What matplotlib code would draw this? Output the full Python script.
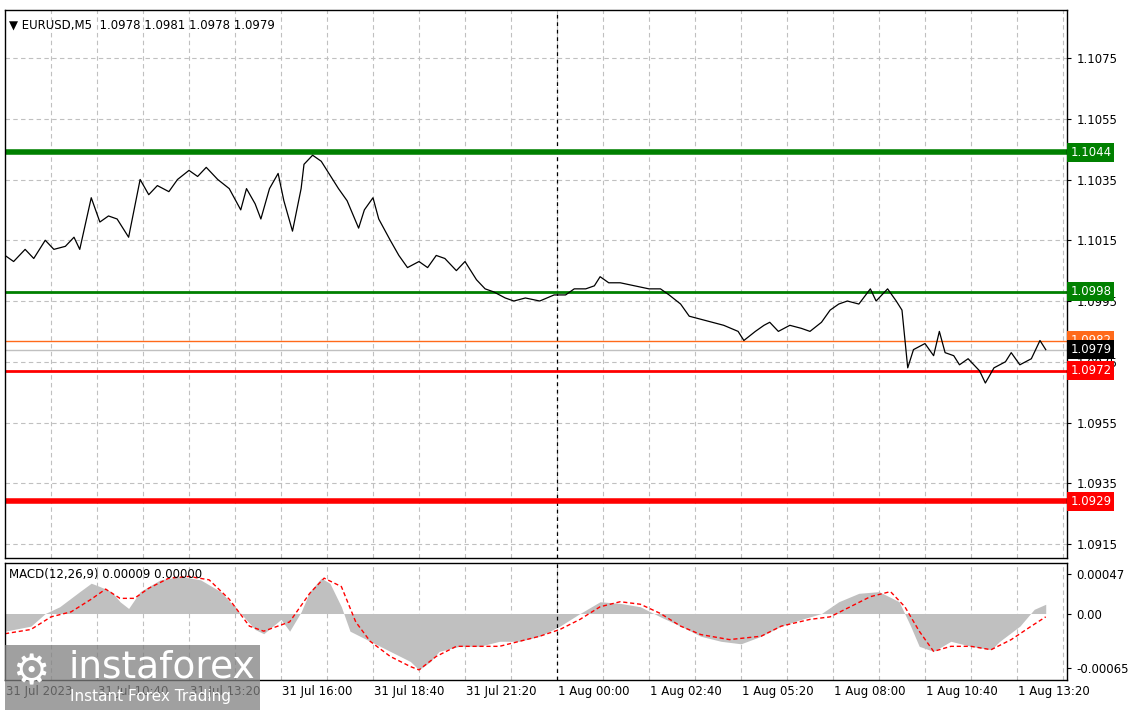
import numpy as np
import matplotlib
matplotlib.use("Agg")
import matplotlib.pyplot as plt
from matplotlib.patches import Rectangle

# price path (bar index of 5-minute bars from 31 Jul 08:00, close price)
price_bars = [0, 3, 7, 10, 14, 17, 21, 24, 26, 30, 33, 36, 39, 43, 47, 50, 53, 57, 60, 64,
              67, 70, 74, 78, 82, 84, 87, 89, 92, 95, 97, 100, 103, 104, 107, 110, 112, 116, 119, 123,
              125, 128, 130, 134, 137, 140, 144, 147, 150, 153, 157, 160, 164, 167, 170, 174, 177, 181, 186, 191,
              195, 198, 202, 205, 207, 210, 214, 219, 224, 228, 231, 235, 238, 242, 246, 250, 255, 257, 261, 264,
              266, 269, 273, 277, 280, 284, 287, 290, 293, 297, 301, 303, 307, 310, 312, 314, 316, 320, 323, 325,
              327, 330, 332, 335, 339, 341, 344, 348, 350, 353, 357, 360, 362]
prices = [1.1010, 1.1008, 1.1012, 1.1009, 1.1015, 1.1012, 1.1013, 1.1016, 1.1012, 1.1029,
          1.1021, 1.1023, 1.1022, 1.1016, 1.1035, 1.1030, 1.1033, 1.1031, 1.1035, 1.1038,
          1.1036, 1.1039, 1.1035, 1.1032, 1.1025, 1.1032, 1.1027, 1.1022, 1.1032, 1.1037,
          1.1028, 1.1018, 1.1032, 1.1040, 1.1043, 1.1041, 1.1038, 1.1032, 1.1028, 1.1019,
          1.1025, 1.1029, 1.1022, 1.1015, 1.1010, 1.1006, 1.1008, 1.1006, 1.1010, 1.1009,
          1.1005, 1.1008, 1.1002, 1.0999, 1.0998, 1.0996, 1.0995, 1.0996, 1.0995, 1.0997,
          1.0997, 1.0999, 1.0999, 1.1000, 1.1003, 1.1001, 1.1001, 1.1000, 1.0999, 1.0999,
          1.0997, 1.0994, 1.0990, 1.0989, 1.0988, 1.0987, 1.0985, 1.0982, 1.0985, 1.0987,
          1.0988, 1.0985, 1.0987, 1.0986, 1.0985, 1.0988, 1.0992, 1.0994, 1.0995, 1.0994,
          1.0999, 1.0995, 1.0999, 1.0995, 1.0992, 1.0973, 1.0979, 1.0981, 1.0977, 1.0985,
          1.0978, 1.0977, 1.0974, 1.0976, 1.0972, 1.0968, 1.0973, 1.0975, 1.0978, 1.0974,
          1.0976, 1.0982, 1.0979]

# MACD histogram and signal (units of 1e-5)
hist_bars = [0, 9, 14, 19, 26, 30, 33, 37, 40, 43, 47, 54, 61, 68, 75, 82, 87, 90, 96, 99,
             103, 106, 110, 113, 117, 120, 127, 134, 141, 144, 148, 151, 158, 165, 172, 179, 186, 193, 200, 207,
             214, 221, 228, 235, 242, 249, 256, 263, 270, 277, 284, 290, 297, 304, 311, 315, 318, 323, 329, 336,
             343, 346, 353, 358, 362]
hist_vals = [-21, -15, 0, 8, 26, 36, 32, 26, 14, 6, 26, 40, 44, 40, 26, 0, -19, -24, -7, -21,
             2, 26, 42, 36, 8, -21, -33, -45, -57, -67, -57, -45, -39, -39, -33, -33, -27, -15, 0, 14,
             12, 8, -4, -15, -27, -33, -36, -27, -15, -7, 0, 14, 24, 26, 14, -15, -39, -45, -33, -39,
             -43, -33, -15, 5, 11]
sig_bars = [0, 9, 16, 23, 30, 35, 40, 45, 50, 57, 64, 71, 78, 85, 90, 99, 106, 111, 117, 122,
            127, 134, 141, 144, 150, 157, 165, 172, 179, 186, 193, 200, 207, 214, 221, 228, 235, 242, 252, 263,
            270, 280, 287, 294, 301, 308, 313, 318, 323, 329, 336, 343, 350, 357, 362]
sig_vals = [-24, -19, -4, 2, 17, 29, 18, 18, 30, 42, 44, 40, 17, -15, -21, -10, 24, 42, 32, -10,
            -33, -51, -63, -67, -51, -39, -39, -39, -33, -27, -19, -7, 8, 14, 11, 0, -15, -25, -31, -27,
            -15, -7, -4, 8, 20, 26, 8, -21, -45, -39, -39, -43, -31, -15, -4]

time_ticks = [0, 32, 64, 96, 128, 160, 192, 224, 256, 288, 320, 352]
time_labels = ["31 Jul 2023", "31 Jul 10:40", "31 Jul 13:20", "31 Jul 16:00", "31 Jul 18:40",
               "31 Jul 21:20", "1 Aug 00:00", "1 Aug 02:40", "1 Aug 05:20", "1 Aug 08:00",
               "1 Aug 10:40", "1 Aug 13:20"]
price_ticks = [1.0915, 1.0935, 1.0955, 1.0975, 1.0995, 1.1015, 1.1035, 1.1055, 1.1075]
levels = [(1.1044, "#008000", 4), (1.0998, "#008000", 2), (1.0972, "#ff0000", 2), (1.0929, "#ff0000", 4)]
ask_level = 1.0982
last_price = 1.0979

W, H = 1137, 717
fig = plt.figure(figsize=(W / 100, H / 100), dpi=100)
fig.patch.set_facecolor("white")


def box(x0, y0, x1, y1):
    return [x0 / W, 1 - y1 / H, (x1 - x0) / W, (y1 - y0) / H]


ax = fig.add_axes(box(5, 10, 1067, 558))
ax2 = fig.add_axes(box(5, 563, 1067, 680))
xmax = 369.4
for a in (ax, ax2):
    a.set_xlim(0, xmax)
    for s in a.spines.values():
        s.set_linewidth(1)
        s.set_color("black")
    a.set_xticks(np.arange(16, xmax, 16))
    a.grid(axis="x", color="#c0c0c0", linestyle=(0, (4, 3)), linewidth=0.8)
    a.tick_params(axis="x", length=0, labelbottom=False)
    a.axvline(192, color="black", linestyle=(0, (3, 3)), linewidth=0.9)

ax.set_ylim(1.09104, 1.10908)
ax.yaxis.tick_right()
ax.set_yticks(price_ticks)
ax.set_yticklabels([f"{p:.4f}" for p in price_ticks], fontsize=8.5)
ax.tick_params(axis="y", length=3, pad=4)
ax.grid(axis="y", color="#c0c0c0", linestyle=(0, (4, 3)), linewidth=0.8)

ax.axhline(last_price, color="#c0c0c0", linewidth=1)
ax.axhline(ask_level, color="#ff6a1a", linewidth=1)
for lv, col, lw in levels:
    ax.axhline(lv, color=col, linewidth=lw)
ax.plot(price_bars, prices, color="black", linewidth=0.9)

tr = ax.get_yaxis_transform()
tags = [(1.1044, "#008000"), (1.0998, "#008000"), (ask_level, "#ff6a1a"),
        (last_price, "black"), (1.0972, "#ff0000"), (1.0929, "#ff0000")]
for lv, col in tags:
    ax.text(1.003, lv, f"{lv:.4f}", transform=tr, fontsize=8.5, color="white", va="center", ha="left",
            bbox=dict(boxstyle="square,pad=0.25", facecolor=col, edgecolor="none"))

ax.text(0.004, 0.985, "\u25bc EURUSD,M5  1.0978 1.0981 1.0978 1.0979", transform=ax.transAxes,
        fontsize=8.5, va="top", ha="left")

# MACD panel
hb = np.array(hist_bars)
hv = np.array(hist_vals) * 1e-5
ax2.fill_between(hb, 0, hv, color="#c0c0c0", linewidth=0)
ax2.plot(sig_bars, np.array(sig_vals) * 1e-5, color="#ff0000", linestyle=(0, (3, 2)), linewidth=1)
ax2.set_ylim(-0.00079, 0.00060)
ax2.yaxis.tick_right()
ax2.set_yticks([0.00047, 0.0, -0.00065])
ax2.set_yticklabels(["0.00047", "0.00", "-0.00065"], fontsize=8.5)
ax2.tick_params(axis="y", length=3, pad=4)
ax2.text(0.004, 0.96, "MACD(12,26,9) 0.00009 0.00000", transform=ax2.transAxes,
         fontsize=8.5, va="top", ha="left")

for t, lab in zip(time_ticks, time_labels):
    ax2.text(t + 0.5, -0.1, lab, transform=ax2.get_xaxis_transform(), fontsize=8.5,
             ha="left", va="center")

# watermark
fig.patches.append(Rectangle((5 / W, 1 - 710 / H), 255 / W, 65 / H, transform=fig.transFigure,
                             facecolor="#808080", alpha=0.75, edgecolor="none"))
fig.text(12 / W, 1 - 672 / H, "\u2699", fontsize=30, color="white", va="center", ha="left")
fig.text(68 / W, 1 - 668 / H, "instaforex", fontsize=27, color="white", va="center", ha="left")
fig.text(70 / W, 1 - 697 / H, "Instant Forex Trading", fontsize=11, color="white", va="center", ha="left")

fig.savefig("out.png", dpi=100)
